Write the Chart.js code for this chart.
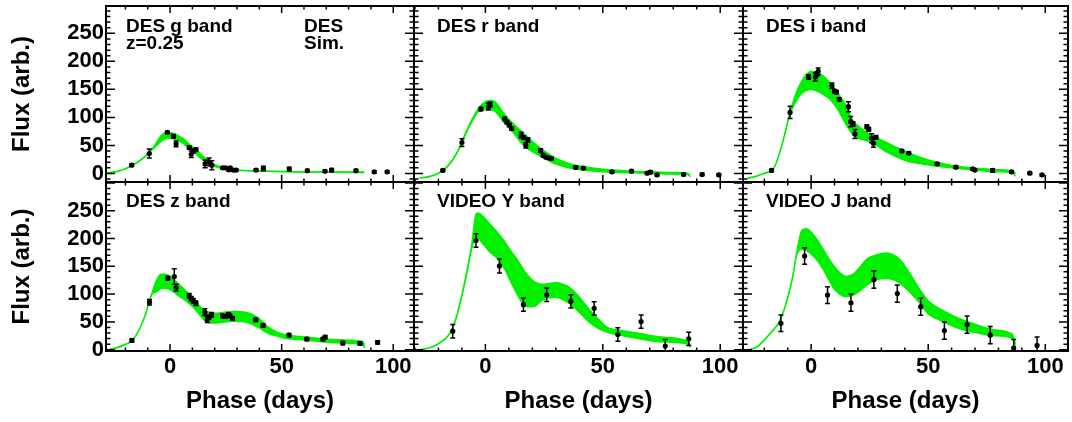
<!DOCTYPE html>
<html>
<head>
<meta charset="utf-8">
<script src="https://cdn.jsdelivr.net/npm/chart.js@4.4.0/dist/chart.umd.min.js"></script>
<style>
  body { margin: 0; background: #fff; }
  #wrap { position: relative; width: 1072px; height: 422px; overflow: hidden; background: #fff; }
  #wrap canvas { position: absolute; }
</style>
</head>
<body>
<div id="wrap"></div>
<script>
const xTickLabels = [0, 50, 100]
const yTickLabels = [0, 50, 100, 150, 200, 250]

// DES g band
const gDays = [-28.5, -24, -20, -16, -12, -8, -4, -2, 0, 2, 4, 6, 8, 10, 12, 14, 16, 18, 20, 24, 28, 32, 40, 50, 60, 70, 80, 87]
const gUpper = [1, 4, 9, 17, 28, 44, 68, 73, 73, 71, 67, 62, 55, 48, 41, 34, 27, 21, 16, 11, 8, 6, 5, 4, 3, 3, 3, 3]
const gLower = [0, 3, 8, 16, 27, 42, 57, 62, 63, 61, 58, 53, 46, 40, 33, 26, 20, 15, 12, 8, 6, 5, 4, 3, 2.5, 2.5, 2, 1]
const gPhase = [-17.2, -9.3, -1.2, 1.5, 2.7, 8.6, 9.5, 10.4, 11.6, 15.7, 17.5, 18.7, 23.6, 24.8, 26.3, 26.9, 28.4, 29.6, 38.5, 41.8, 53.4, 61.5, 69.4, 72.4, 83.3, 91.5, 97.3]
const gFlux = [14.8, 35.6, 73.4, 66.3, 52.8, 46.2, 34.3, 40, 42.6, 17.2, 20.8, 14.8, 10, 10, 6.5, 10, 6, 6, 6, 9, 8, 5, 4, 6, 5, 3, 3]
const gErr = [2, 8, 2, 3, 5, 3, 6, 3, 3, 7, 7, 8, 2, 2, 2, 2, 2, 2, 2, 4, 3, 2, 2, 3, 2, 2, 2]

// DES r band
const rDays = [-28, -24, -20, -16, -12, -8, -5, -3, 0, 2, 4, 8, 12, 16, 20, 24, 28, 32, 38, 44, 50, 56, 64, 72, 80, 86, 87.3]
const rUpper = [-7.3, -5.2, 0.9, 14.1, 38.6, 77.3, 101.8, 116, 128.2, 130.3, 128.2, 106.9, 88.5, 73.2, 56.9, 43.7, 32.5, 23.3, 15.1, 11.1, 8, 6, 3.9, 2.9, 1.9, 0.9, -3.2]
const rLower = [-8.3, -6.3, -0.1, 12.1, 36.5, 73.2, 97.7, 109.9, 114, 114, 110.9, 90.5, 72.2, 50.8, 38.6, 29.4, 20.2, 14.1, 8, 5, 2.9, 1.9, 0.9, -0.1, -1.2, -2.2, -6.3]
const rPhase = [-18.1, -10, -1.9, 1.3, 2, 8.2, 9.2, 10.2, 11.2, 15.2, 16.3, 17.2, 18.1, 23.5, 24.6, 25.8, 26.9, 28.1, 38.5, 41.7, 53.9, 62.2, 68.9, 70.3, 73.1, 84.4, 92.3, 99.4]
const rFlux = [5.4, 55.1, 115, 119.1, 123.1, 97.2, 91.6, 86.5, 80, 68.7, 64, 50.4, 59.9, 40.9, 32.5, 29, 27.9, 26.7, 10.7, 9.4, 2.9, 4.1, 0.6, 2.4, -2.4, -1.8, -1.8, -2.4]
const rErr = [2, 7, 3, 6, 4, 3, 3, 3, 3, 5, 3, 5, 4, 3, 3, 2, 2, 2, 2, 2, 2, 2, 2, 2, 2, 2, 2, 2]

// DES i band
const iDays = [-27, -24, -20, -16, -12, -9, -6, -4, -2, 0, 2, 4, 6, 8, 10, 12, 14, 16, 18, 20, 24, 28, 32, 36, 40, 45, 50, 57, 64, 72, 80, 86, 87.3]
const iUpper = [-7.3, -5.2, 0.9, 9.5, 59, 109.9, 148.6, 164.9, 177.2, 182.3, 181.2, 177.2, 171, 161.9, 151.7, 140.5, 128.2, 110.9, 93.6, 85.4, 73.2, 64, 55.9, 47.7, 40.6, 31.4, 24.3, 17.2, 12.1, 9, 7, 5, -0.1]
const iLower = [-8.3, -6.3, -0.1, 8.5, 56.9, 105.8, 131.3, 142.5, 147.6, 149.6, 147.6, 143.5, 138.4, 132.3, 122.1, 109.9, 93.6, 79.3, 68.1, 63, 57.9, 49.8, 38.6, 30.4, 23.3, 18.2, 15.1, 11.1, 8, 5, 2.9, 0.9, -5.2]
const iPhase = [-16.9, -9, -1.1, 1.8, 2.4, 3, 8.9, 10, 10.8, 12, 15.9, 16.9, 17.9, 18.7, 23.8, 24.6, 25.8, 26.6, 27.7, 38.7, 41.7, 53.8, 61.8, 69, 69.9, 77.5, 85.6, 93.4, 98.6]
const iFlux = [5.4, 108.9, 172.1, 172.1, 177.2, 182.3, 156.4, 146.6, 145.2, 132.1, 119.1, 92.4, 88.3, 70.5, 83.4, 78.8, 62.8, 53.9, 64.6, 40.3, 36.1, 17.2, 11.3, 8.3, 6, 5.4, 2.9, 0.6, -2.4]
const iErr = [2, 11, 4, 7, 4, 6, 5, 3, 3, 3, 9, 9, 4, 8, 3, 3, 8, 7, 3, 2, 2, 2, 2, 2, 2, 3, 2, 2, 2]

// DES z band
const zDays = [-27, -24, -20, -17, -14, -11, -8, -6, -4, -2, 0, 3, 6, 9, 12, 15, 18, 21, 25, 29, 33, 36, 40, 44, 48, 52, 58, 66, 76, 86, 87.3]
const zUpper = [1, 4, 10, 17, 35, 65, 104, 126, 136, 136, 132, 122, 110, 98, 84, 72, 67, 66, 68, 69, 68, 65, 56, 41, 32, 27, 24, 21, 18, 15, 10]
const zLower = [0, 3, 9, 16, 34, 63, 100, 104, 110, 110, 108, 99, 91, 81, 69, 54, 48, 48, 50, 51, 50, 47, 39, 29, 24, 20, 18, 15, 12, 9, 3]
const zPhase = [-17.1, -9.2, -1, 1.9, 2.7, 8.6, 9.5, 10.4, 11.6, 15.6, 16.7, 17.4, 18.6, 23.5, 24.7, 26.2, 26.8, 28, 38.4, 41.7, 53.3, 61.3, 68.5, 69.5, 77.4, 85.1, 93]
const zFlux = [16.7, 85.5, 128.6, 131.6, 111.8, 96.9, 91.5, 87.9, 83.7, 67.6, 53.8, 58.6, 62.8, 61, 59.8, 63.4, 61, 56.2, 53.8, 43.7, 26.3, 19.1, 19.1, 22.7, 12, 11.4, 13.2]
const zErr = [3, 5, 3, 14, 6, 4, 4, 4, 4, 6, 5, 4, 4, 3, 3, 3, 3, 3, 3, 3, 3, 3, 3, 3, 3, 3, 3]

// VIDEO Y band
const vyDays = [-27, -23, -19, -16, -14, -12, -10, -8, -6, -4, -3, -1, 2, 5, 8, 11, 14, 16, 18, 21, 24, 27, 30, 33, 36, 40, 44, 48, 52, 56, 65, 75, 86, 87.3]
const vyUpper = [1, 5, 14, 25, 40, 65, 100, 140, 185, 244, 246, 240, 226, 212, 196, 177, 160, 146, 134, 122, 118, 119, 121, 118, 112, 95, 74, 56, 40, 36, 30, 23, 16, 8]
const vyLower = [0, 4, 13, 24, 38, 62, 96, 134, 178, 202, 200, 190, 175, 164, 146, 120, 96, 82, 77, 78, 88, 93, 94, 90, 82, 67, 50, 38, 31, 27, 20, 14, 10, 4]
const vyPhase = [-13.9, -4, 6, 16.2, 26.1, 36.4, 46.3, 56.4, 66.3, 76.6, 86.6]
const vyFlux = [33.3, 196.4, 150.6, 81, 98.8, 87, 74.4, 27.4, 50.6, 6.5, 19.6]
const vyErr = [12, 12, 12.5, 12, 12, 12, 12, 12, 12, 12, 12]

// VIDEO J band
const vjDays = [-26, -23, -20, -17, -14, -11, -8, -6, -4, -2, 0, 3, 6, 9, 12, 15, 18, 21, 24, 28, 32, 35, 38, 41, 44, 47, 50, 54, 58, 64, 70, 78, 86, 87.3]
const vjUpper = [1, 6, 18, 32, 48, 80, 130, 180, 215, 218, 212, 196, 175, 155, 140, 132, 136, 150, 164, 171, 174, 171, 162, 145, 125, 105, 88, 76, 67, 55, 46, 36, 28, 10]
const vjLower = [0, 5, 17, 31, 47, 78, 127, 172, 180, 178, 172, 158, 138, 114, 100, 95, 98, 106, 117, 126, 128, 126, 119, 108, 95, 80, 64, 55, 47, 37, 31, 25, 20, 4]
const vjPhase = [-12.9, -2.8, 7, 17, 26.8, 36.8, 46.8, 56.9, 66.6, 76.5, 86.5, 96.5]
const vjFlux = [47.6, 168.5, 98.2, 84.5, 126, 101, 77.4, 34.5, 45.2, 26.2, 3, 7.7]
const vjErr = [15, 15, 15, 15.5, 15.5, 15.5, 15.5, 15.5, 15.5, 15.5, 15.5, 15]

const colEdges = [106, 414, 743, 1071]
const rowEdges = [6, 182, 351]
const xRanges = [[-28.7, 109.3], [-30.4, 109.7], [-29.1, 109.7]]
const yRanges = [[-15.2, 298.7], [-2.3, 301.6]]
const green = 'rgb(0,240,0)'
const fontFamily = "'Liberation Sans', Arial, Helvetica, sans-serif"

const panels = [
  {days: gDays, upper: gUpper, lower: gLower, phase: gPhase, flux: gFlux, err: gErr,
   notes: [['DES g band', 20, 25.5], ['z=0.25', 20, 43], ['DES', 198, 25.5], ['Sim.', 198, 43]]},
  {days: rDays, upper: rUpper, lower: rLower, phase: rPhase, flux: rFlux, err: rErr, notes: [['DES r band', 23, 25.5]]},
  {days: iDays, upper: iUpper, lower: iLower, phase: iPhase, flux: iFlux, err: iErr, notes: [['DES i band', 23, 25.5]]},
  {days: zDays, upper: zUpper, lower: zLower, phase: zPhase, flux: zFlux, err: zErr, notes: [['DES z band', 20, 25]]},
  {days: vyDays, upper: vyUpper, lower: vyLower, phase: vyPhase, flux: vyFlux, err: vyErr, notes: [['VIDEO Y band', 23, 25]]},
  {days: vjDays, upper: vjUpper, lower: vjLower, phase: vjPhase, flux: vjFlux, err: vjErr, notes: [['VIDEO J band', 23, 25]]}
]

Chart.defaults.font.family = fontFamily
Chart.defaults.color = '#000'

// ROOT style frame with ticks drawn inward on all four sides
const frameTicks = {
  id: 'frameTicks',
  afterDraw(chart) {
    const {ctx, chartArea: a, scales: {x, y}} = chart
    ctx.save()
    ctx.strokeStyle = '#000'
    ctx.lineWidth = 1.5
    ctx.beginPath()
    for (let v = Math.ceil(x.min / 10) * 10; v <= x.max; v += 10) {
      const px = x.getPixelForValue(v)
      const len = v % 50 === 0 ? 7 : 3.5
      ctx.moveTo(px, a.bottom); ctx.lineTo(px, a.bottom - len)
      ctx.moveTo(px, a.top); ctx.lineTo(px, a.top + len)
    }
    for (let v = Math.ceil(y.min / 10) * 10; v <= y.max; v += 10) {
      const py = y.getPixelForValue(v)
      const len = v % 50 === 0 ? 9 : 4.5
      ctx.moveTo(a.left, py); ctx.lineTo(a.left + len, py)
      ctx.moveTo(a.right, py); ctx.lineTo(a.right - len, py)
    }
    ctx.stroke()
    ctx.lineWidth = 2
    ctx.strokeRect(a.left, a.top, a.right - a.left, a.bottom - a.top)
    ctx.restore()
  }
}

const errorBars = {
  id: 'errorBars',
  afterDatasetsDraw(chart) {
    const {ctx, chartArea: a, scales: {x, y}} = chart
    const ds = chart.data.datasets[2]
    ctx.save()
    ctx.beginPath()
    ctx.rect(a.left, a.top, a.right - a.left, a.bottom - a.top)
    ctx.clip()
    ctx.strokeStyle = '#000'
    ctx.lineWidth = 1.5
    ctx.beginPath()
    ds.data.forEach((p, i) => {
      const e = ds.errors[i]
      const px = x.getPixelForValue(p.x)
      const lo = y.getPixelForValue(p.y - e)
      const hi = y.getPixelForValue(p.y + e)
      ctx.moveTo(px, lo); ctx.lineTo(px, hi)
      ctx.moveTo(px - 2.5, lo); ctx.lineTo(px + 2.5, lo)
      ctx.moveTo(px - 2.5, hi); ctx.lineTo(px + 2.5, hi)
    })
    ctx.stroke()
    ctx.restore()
  }
}

const panelNotes = {
  id: 'panelNotes',
  afterDraw(chart, args, opts) {
    const {ctx, chartArea: a} = chart
    ctx.save()
    ctx.fillStyle = '#000'
    ctx.font = 'bold 19px ' + fontFamily
    ctx.textBaseline = 'alphabetic'
    opts.notes.forEach(n => ctx.fillText(n[0], a.left + n[1], a.top + n[2]))
    ctx.restore()
  }
}

function makePanel(p, row, col) {
  const wrap = document.getElementById('wrap')
  const left = col === 0 ? 0 : colEdges[col] - 4
  const right = Math.min(1072, colEdges[col + 1] + 4)
  const top = row === 0 ? 0 : rowEdges[1] - 4
  const bottom = row === 0 ? rowEdges[1] + 4 : 422
  const canvas = document.createElement('canvas')
  canvas.width = right - left
  canvas.height = bottom - top
  canvas.style.left = left + 'px'
  canvas.style.top = top + 'px'
  canvas.style.width = (right - left) + 'px'
  canvas.style.height = (bottom - top) + 'px'
  wrap.appendChild(canvas)

  const band = (vals) => p.days.map((d, i) => ({x: d, y: vals[i]}))
  const showX = row === 1
  const showY = col === 0

  new Chart(canvas, {
    type: 'line',
    data: {
      datasets: [
        {data: band(p.upper), borderColor: green, backgroundColor: green, borderWidth: 1.2,
         pointRadius: 0, fill: '+1', cubicInterpolationMode: 'monotone', order: 2},
        {data: band(p.lower), borderColor: green, backgroundColor: green, borderWidth: 1.2,
         pointRadius: 0, fill: false, cubicInterpolationMode: 'monotone', order: 1},
        {data: p.phase.map((d, i) => ({x: d, y: p.flux[i]})), errors: p.err, showLine: false,
         pointRadius: 2.6, pointBackgroundColor: '#000', pointBorderWidth: 0, order: 0}
      ]
    },
    options: {
      responsive: false,
      animation: false,
      events: [],
      layout: {
        padding: {
          left: col === 0 ? 0 : colEdges[col] - left,
          right: right - colEdges[col + 1],
          top: rowEdges[row] - top,
          bottom: row === 0 ? bottom - rowEdges[1] : 0
        }
      },
      plugins: {
        legend: {display: false},
        tooltip: {enabled: false},
        panelNotes: {notes: p.notes}
      },
      scales: {
        x: {
          type: 'linear',
          min: xRanges[col][0],
          max: xRanges[col][1],
          display: showX,
          grid: {display: false, drawTicks: false},
          border: {display: false},
          afterBuildTicks: s => { s.ticks = xTickLabels.map(v => ({value: v})) },
          afterFit: s => { s.height = showX ? 422 - rowEdges[2] : 0; s.paddingLeft = 0; s.paddingRight = 0 },
          ticks: {font: {size: 22, weight: 'bold'}, padding: 3, maxRotation: 0, autoSkip: false},
          title: {display: true, text: 'Phase (days)', font: {size: 24, weight: 'bold'}, padding: {top: 0, bottom: 6}}
        },
        y: {
          type: 'linear',
          min: yRanges[row][0],
          max: yRanges[row][1],
          display: showY,
          grid: {display: false, drawTicks: false},
          border: {display: false},
          afterBuildTicks: s => { s.ticks = yTickLabels.map(v => ({value: v})) },
          afterFit: s => { s.width = showY ? colEdges[0] : 0; s.paddingTop = 0; s.paddingBottom = 0 },
          ticks: {font: {size: 22, weight: 'bold'}, padding: 2, autoSkip: false},
          title: {display: true, text: 'Flux (arb.)', font: {size: 24, weight: 'bold'}, padding: {top: 8, bottom: 0}}
        }
      }
    },
    plugins: [frameTicks, errorBars, panelNotes]
  })
}

window.addEventListener('load', () => {
  panels.forEach((p, i) => makePanel(p, Math.floor(i / 3), i % 3))
})
</script>
</body>
</html>
